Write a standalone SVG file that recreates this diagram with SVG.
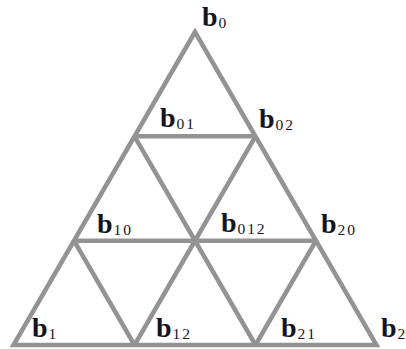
<svg xmlns="http://www.w3.org/2000/svg" width="406" height="349" viewBox="0 0 406 349">
<style>
.edge{stroke:#939393;stroke-width:4.5;fill:none;stroke-linejoin:miter;stroke-linecap:butt}
.lbl{font-family:"Liberation Serif","DejaVu Serif",serif;fill:#15151f}
.b{font-weight:bold;font-size:28px}
.s{font-size:15.5px;letter-spacing:1.8px}
</style>
<rect width="406" height="349" fill="#ffffff"/>
<g id="connectors">
<polygon class="edge" points="195,32 13.5,345 376.5,345"/>
<line class="edge" x1="134.5" y1="136.3" x2="255.5" y2="136.3"/>
<line class="edge" x1="74" y1="240.7" x2="316" y2="240.7"/>
<line class="edge" x1="134.5" y1="136.3" x2="255.5" y2="345"/>
<line class="edge" x1="74" y1="240.7" x2="134.5" y2="345"/>
<line class="edge" x1="255.5" y1="136.3" x2="134.5" y2="345"/>
<line class="edge" x1="316" y1="240.7" x2="255.5" y2="345"/>
</g>
<g id="b0"><text class="lbl" x="202" y="26"><tspan class="b">b</tspan><tspan class="s" dx="1" dy="2">0</tspan></text></g>
<g id="b01"><text class="lbl" x="160" y="127"><tspan class="b">b</tspan><tspan class="s" dx="1" dy="2">01</tspan></text></g>
<g id="b02"><text class="lbl" x="259" y="128"><tspan class="b">b</tspan><tspan class="s" dx="1" dy="2">02</tspan></text></g>
<g id="b10"><text class="lbl" x="97" y="233"><tspan class="b">b</tspan><tspan class="s" dx="1" dy="2">10</tspan></text></g>
<g id="b012"><text class="lbl" x="221" y="232"><tspan class="b">b</tspan><tspan class="s" dx="1" dy="2">012</tspan></text></g>
<g id="b20"><text class="lbl" x="321" y="233"><tspan class="b">b</tspan><tspan class="s" dx="1" dy="2">20</tspan></text></g>
<g id="b1"><text class="lbl" x="32" y="337"><tspan class="b">b</tspan><tspan class="s" dx="1" dy="2">1</tspan></text></g>
<g id="b12"><text class="lbl" x="156" y="337"><tspan class="b">b</tspan><tspan class="s" dx="1" dy="2">12</tspan></text></g>
<g id="b21"><text class="lbl" x="281" y="337"><tspan class="b">b</tspan><tspan class="s" dx="1" dy="2">21</tspan></text></g>
<g id="b2"><text class="lbl" x="381" y="337"><tspan class="b">b</tspan><tspan class="s" dx="1" dy="2">2</tspan></text></g>
</svg>
